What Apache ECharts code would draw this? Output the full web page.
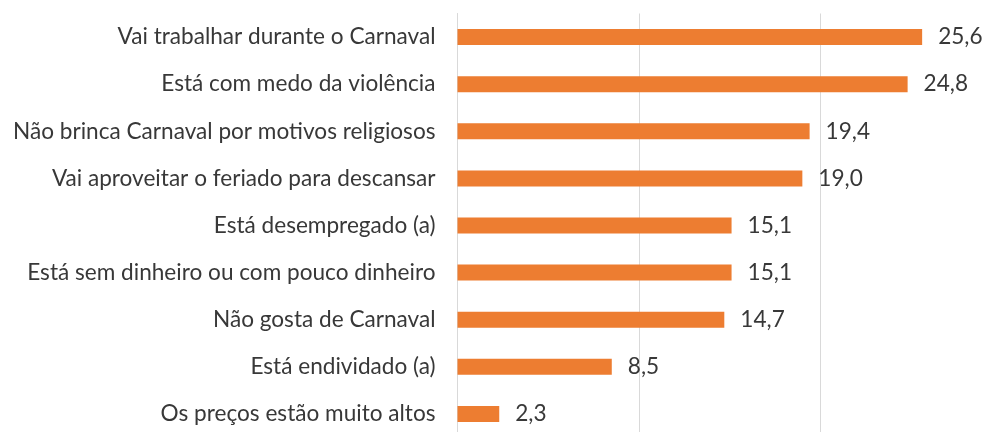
<!DOCTYPE html>
<html><head><meta charset="utf-8">
<script src="https://cdn.jsdelivr.net/npm/echarts@6/dist/echarts.min.js"></script>
<style>html,body{margin:0;padding:0;background:#fff}#c{width:987px;height:432px}</style>
</head><body><div id="c"></div>
<script>
const categories = [
  "Vai trabalhar durante o Carnaval",
  "Está com medo da violência",
  "Não brinca Carnaval por motivos religiosos",
  "Vai aproveitar o feriado para descansar",
  "Está desempregado (a)",
  "Está sem dinheiro ou com pouco dinheiro",
  "Não gosta de Carnaval",
  "Está endividado (a)",
  "Os preços estão muito altos"
];
const values = [25.6, 24.8, 19.4, 19.0, 15.1, 15.1, 14.7, 8.5, 2.3];
const xTicks = [0, 10, 20, 30];

const chart = echarts.init(document.getElementById('c'), null, {renderer: 'canvas'});
const font = 'Lato, "Noto Sans", sans-serif';
chart.setOption({
  animation: false,
  grid: {left: 457.5, width: 544.5, top: 13.5, height: 424, containLabel: false, outerBoundsMode: 'none'},
  xAxis: {
    type: 'value', min: xTicks[0], max: xTicks[xTicks.length - 1], interval: 10,
    axisLabel: {show: false}, axisTick: {show: false}, axisLine: {show: false},
    splitLine: {show: true, lineStyle: {color: '#d9d9d9', width: 1}}
  },
  yAxis: {
    type: 'category', inverse: true, data: categories,
    axisLine: {show: true, lineStyle: {color: '#d9d9d9', width: 1}},
    axisTick: {show: false},
    axisLabel: {color: '#383838', fontSize: 22.6, fontFamily: font, margin: 22}
  },
  series: [{
    type: 'bar', data: values, barWidth: 16,
    itemStyle: {color: '#ED7D31'},
    label: {
      show: true, position: 'right', distance: 16, color: '#383838',
      fontSize: 22.6, fontFamily: font,
      formatter: p => p.value.toFixed(1).replace('.', ',')
    }
  }]
});
</script></body></html>
